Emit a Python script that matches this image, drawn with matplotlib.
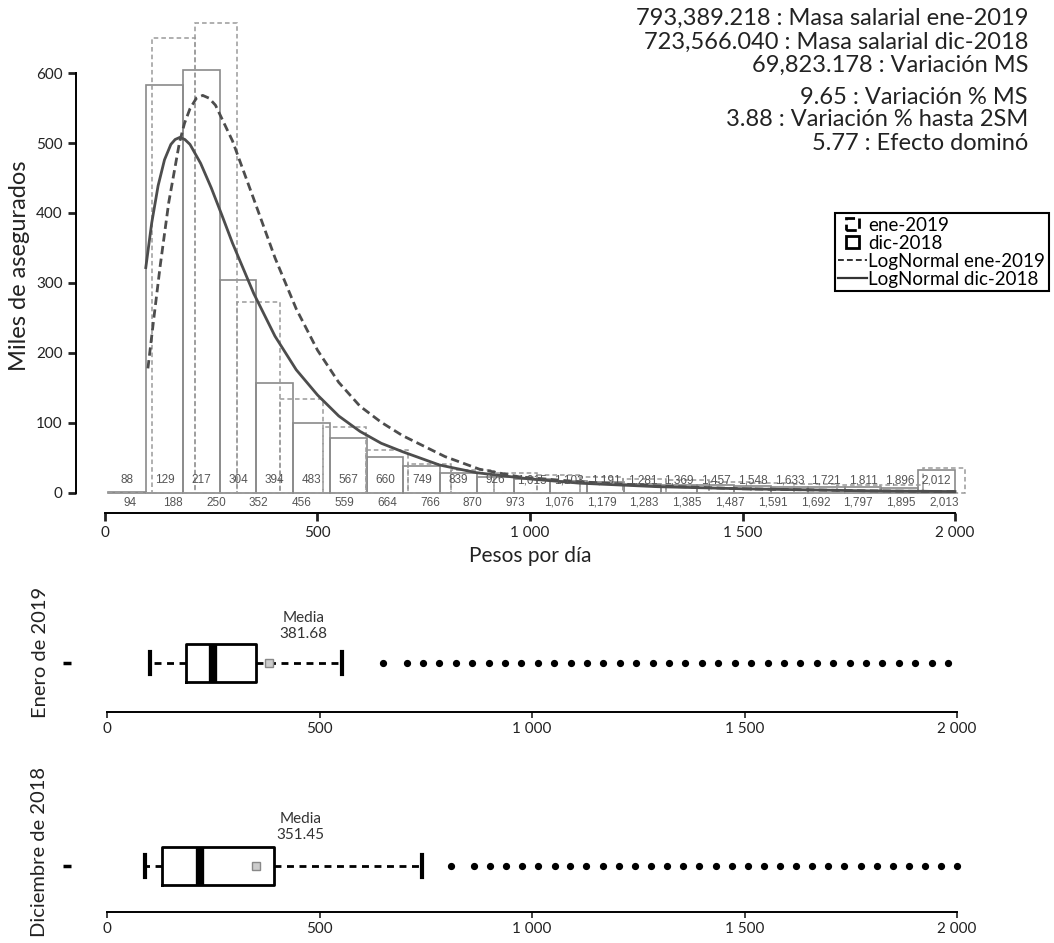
import matplotlib
matplotlib.use("Agg")
import matplotlib.pyplot as plt
from matplotlib.patches import Patch, Rectangle
from matplotlib.lines import Line2D
from matplotlib.legend_handler import HandlerPatch

plt.rcParams['font.family'] = ['Lato', 'DejaVu Sans']

# histograma dic-2018 (bordes de clase y miles de asegurados)
dic_edges = [8, 97, 183, 270, 356, 443, 529, 616, 702, 789, 875, 962, 1048, 1135,
             1221, 1308, 1394, 1481, 1567, 1654, 1740, 1827, 1913, 2000]
dic_counts = [1, 583, 604, 304, 157, 100, 79, 51, 38, 28, 23, 20, 17, 15, 13, 12,
              11, 10, 9, 8, 8, 7, 33]
dic_labels = ['88', '129', '217', '304', '394', '483', '567', '660', '749', '839',
              '926', '1,015', '1,103', '1,191', '1,281', '1,369', '1,457', '1,548',
              '1,633', '1,721', '1,811', '1,896', '2,012']

# histograma ene-2019
ene_edges = [8, 110, 211, 311, 412, 513, 614, 714, 815, 916, 1017, 1118, 1218, 1319,
             1420, 1521, 1622, 1722, 1823, 1924, 2024]
ene_counts = [0, 650, 672, 273, 134, 94, 62, 41, 33, 29, 26, 23, 20, 18, 16, 14, 13,
              12, 11, 36]
ene_labels = ['94', '188', '250', '352', '456', '559', '664', '766', '870', '973',
              '1,076', '1,179', '1,283', '1,385', '1,487', '1,591', '1,692', '1,797',
              '1,895', '2,013']

# curvas LogNormal
dic_curve_x = [96, 110, 125, 140, 155, 165, 176, 188, 200, 225, 250, 275, 300, 350,
               400, 450, 500, 550, 600, 650, 700, 787, 874, 1000, 1117, 1300, 1500,
               1800, 2000]
dic_curve_y = [322, 386, 439, 476, 498, 505, 508, 505, 498, 471, 436, 397, 357, 285,
               224, 176, 140, 110, 88, 71, 59, 40, 29, 20, 14, 9, 6, 3, 2]
ene_curve_x = [101, 115, 130, 150, 175, 187, 200, 215, 230, 245, 260, 300, 350, 400,
               450, 500, 550, 600, 650, 700, 800, 881, 975, 1117, 1300, 1500, 1800, 2000]
ene_curve_y = [178, 250, 325, 415, 500, 528, 549, 564, 568, 564, 554, 503, 420, 336,
               263, 204, 158, 124, 101, 82, 52, 34, 23, 16, 10, 6, 3, 2]

stat_lines = ['793,389.218 : Masa salarial ene-2019',
              '723,566.040 : Masa salarial dic-2018',
              '69,823.178 : Variación MS',
              '9.65 : Variación % MS',
              '3.88 : Variación % hasta 2SM',
              '5.77 : Efecto dominó']

# diagramas de caja
ene_box = dict(whislo=100, q1=186, med=250, q3=350, whishi=552, mean=381.68)
ene_fliers = [650, 705, 744, 782, 821, 859, 898, 937, 975, 1014, 1052, 1091, 1130,
              1168, 1207, 1245, 1284, 1323, 1361, 1400, 1438, 1477, 1516, 1554, 1593,
              1631, 1670, 1709, 1747, 1786, 1824, 1863, 1902, 1940, 1979]
dic_box = dict(whislo=89, q1=130, med=218, q3=392, whishi=740, mean=351.45)
dic_fliers = [809, 863, 901, 939, 977, 1015, 1053, 1090, 1128, 1166, 1204, 1242, 1280,
              1318, 1356, 1394, 1432, 1470, 1508, 1546, 1583, 1621, 1659, 1697, 1735,
              1773, 1811, 1849, 1887, 1924, 1962, 2000]

xticks = [0, 500, 1000, 1500, 2000]
xtick_labels = ['0', '500', '1 000', '1 500', '2 000']

W, H = 1054, 943
fig = plt.figure(figsize=(W / 100, H / 100), dpi=100)


def fig_rect(left, top, right, bottom):
    return [left / W, 1 - bottom / H, (right - left) / W, (bottom - top) / H]


# ---- histograma principal ----
ax = fig.add_axes(fig_rect(76, 0, 1050, 513))
ax.set_xlim(-68.2, 2223.5)
ax.set_ylim(-28.6, 704.3)

ax.bar(dic_edges[:-1], dic_counts,
       width=[b - a for a, b in zip(dic_edges[:-1], dic_edges[1:])],
       align='edge', fill=False, edgecolor='#8a8a8a', linewidth=1.2, zorder=2)
ax.bar(ene_edges[:-1], ene_counts,
       width=[b - a for a, b in zip(ene_edges[:-1], ene_edges[1:])],
       align='edge', fill=False, edgecolor='#9a9a9a', linewidth=1.1,
       linestyle=(0, (3, 2)), zorder=2)

ax.plot(ene_curve_x, ene_curve_y, color='#4d4d4d', lw=2,
        linestyle=(0, (3, 1.6)), zorder=3)
ax.plot(dic_curve_x, dic_curve_y, color='#4d4d4d', lw=2, zorder=3)

for a, b, lab in zip(dic_edges[:-1], dic_edges[1:], dic_labels):
    ax.text((a + b) / 2, 18.5, lab, ha='center', va='center', fontsize=8.5,
            family='Liberation Sans', color='#555555', zorder=4)
for a, b, lab in zip(ene_edges[:-1], ene_edges[1:], ene_labels):
    ax.text((a + b) / 2, -14.3, lab, ha='center', va='center', fontsize=8.5,
            family='Liberation Sans', color='#555555', zorder=4)

for s in ['top', 'right']:
    ax.spines[s].set_visible(False)
ax.spines['left'].set_bounds(0, 600)
ax.spines['bottom'].set_bounds(0, 2000)
for s in ['left', 'bottom']:
    ax.spines[s].set_linewidth(1.4)
ax.set_xticks(xticks, xtick_labels)
ax.set_yticks([0, 100, 200, 300, 400, 500, 600])
ax.tick_params(axis='both', labelsize=11, width=2, length=6, colors='#222222')
fig.text(530 / W, 1 - 556 / H, 'Pesos por día', fontsize=15, ha='center',
         va='center', color='#222222')
fig.text(20 / W, 1 - 266 / H, 'Miles de asegurados', rotation=90, fontsize=17,
         ha='center', va='center', color='#222222')

# texto de resumen
stat_y = [18, 42, 65, 97, 120, 143]
for txt, yy in zip(stat_lines, stat_y):
    fig.text(1028 / W, 1 - yy / H, txt, ha='right', va='center', fontsize=17,
             color='#222222')


# leyenda
def square_patch(legend, orig_handle, xdescent, ydescent, width, height, fontsize):
    side = height * 0.95
    return Rectangle((width / 2 - side / 2 - xdescent, -ydescent + (height - side) / 2),
                     side, side)


handles = [Patch(facecolor='white', edgecolor='black', linestyle='--', linewidth=2),
           Patch(facecolor='white', edgecolor='black', linewidth=2),
           Line2D([], [], color='#333333', lw=1.4, linestyle=(0, (3, 1.6))),
           Line2D([], [], color='#333333', lw=1.6)]
leg = fig.legend(handles, ['ene-2019', 'dic-2018', 'LogNormal ene-2019', 'LogNormal dic-2018'],
                 loc='upper right', bbox_to_anchor=(1049 / W, 1 - 213 / H),
                 bbox_transform=fig.transFigure, fontsize=13.5, labelspacing=0.05,
                 handlelength=1.5, handletextpad=0.1, borderpad=0.2,
                 borderaxespad=0, fancybox=False, framealpha=1,
                 edgecolor='black',
                 handler_map={Patch: HandlerPatch(patch_func=square_patch)})
leg.get_frame().set_linewidth(1.5)


# ---- diagramas de caja ----
def box_axes(top, bottom, center, stats, fliers, title, mean_lbl, label_x, label_y):
    bx = fig.add_axes(fig_rect(71, top, 1000, bottom))
    bx.set_xlim(-84.7, 2101)
    unit = 76.0
    bx.set_ylim(1 - (bottom - center) / unit, 1 + (center - top) / unit)
    st = dict(stats)
    st['fliers'] = fliers
    bx.bxp([st], positions=[1], widths=[0.5], orientation='horizontal',
           showmeans=True, showfliers=True, capwidths=[0.28],
           boxprops=dict(color='black', lw=2),
           whiskerprops=dict(color='black', lw=2, linestyle=(0, (2.5, 2))),
           capprops=dict(color='black', lw=3),
           medianprops=dict(color='black', lw=6, solid_capstyle='butt'),
           meanprops=dict(marker='s', markerfacecolor='#cccccc',
                          markeredgecolor='#888888', markersize=5.5),
           flierprops=dict(marker='o', markerfacecolor='black',
                           markeredgecolor='black', markersize=4.2, linestyle='none'))
    for s in ['top', 'right', 'left']:
        bx.spines[s].set_visible(False)
    bx.spines['bottom'].set_bounds(0, 2000)
    bx.spines['bottom'].set_linewidth(1.4)
    bx.set_xticks(xticks, xtick_labels)
    bx.set_yticks([1], [''])
    bx.tick_params(axis='x', labelsize=11, width=1.2, length=4, colors='#222222')
    bx.tick_params(axis='y', width=2.5, length=6)
    bx.text(label_x, 1 + (center - label_y) / unit, 'Media\n' + mean_lbl,
            ha='center', va='center', fontsize=11, color='#333333', linespacing=1.1)
    fig.text(40 / W, 1 - (top + bottom) / 2 / H + 0.004, title, rotation=90,
             fontsize=14.5, ha='center', va='center', color='#222222')
    return bx


box_axes(600, 712, 663, ene_box, ene_fliers, 'Enero de 2019', '381.68', 463, 626)
box_axes(800, 912, 866, dic_box, dic_fliers, 'Diciembre de 2018', '351.45', 455, 827)

fig.savefig('out.png', dpi=100)
